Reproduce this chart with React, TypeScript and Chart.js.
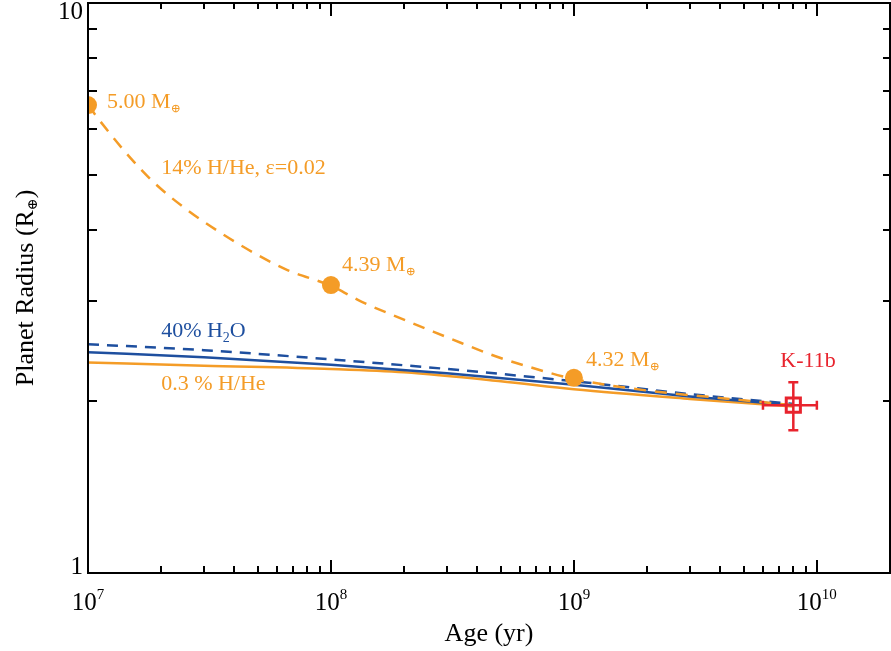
import React, { useEffect, useRef } from 'react';
import { Chart, registerables } from 'chart.js';

Chart.register(...registerables);

const FONT = '"Liberation Serif", "DejaVu Serif", serif';
const ORANGE = '#F49C27';
const BLUE = '#1E4F9F';
const RED = '#E8232D';

// 14% H/He, epsilon = 0.02 (dashed orange)
const ageHHe14 = [1e7, 1.13e7, 1.46e7, 1.88e7, 2.57e7, 3.52e7, 4.84e7, 6.62e7, 1e8, 1.34e8, 1.85e8, 2.53e8, 3.46e8, 4.76e8, 6.52e8, 1e9, 2.0e9, 3.9e9, 8e9];
const radiusHHe14 = [6.62, 6.18, 5.41, 4.83, 4.33, 3.95, 3.64, 3.4, 3.19, 2.99, 2.82, 2.67, 2.53, 2.4, 2.3, 2.19, 2.09, 2.03, 1.97];

// 40% H2O (blue dashed and blue solid)
const ageH2O = [1e7, 3e7, 1e8, 3e8, 1e9, 3e9, 8e9];
const radiusH2ODashed = [2.52, 2.46, 2.37, 2.28, 2.17, 2.06, 1.98];
const radiusH2OSolid = [2.44, 2.39, 2.32, 2.24, 2.14, 2.04, 1.97];

// 0.3% H/He (orange solid)
const ageHHe03 = [1e7, 3e7, 1e8, 2e8, 5e8, 1e9, 3e9, 8e9];
const radiusHHe03 = [2.34, 2.31, 2.28, 2.25, 2.17, 2.1, 2.02, 1.96];

// Planet mass markers
const massAges = [1e7, 1e8, 1e9];
const massRadii = [6.62, 3.2, 2.2];
const massLabels = ['5.00', '4.39', '4.32'];

// Kepler-11b
const k11bAge = 8e9;
const k11bAgeErr = 2e9;
const k11bRadius = 1.97;
const k11bRadiusErr = 0.19;

// Axis ticks
const xMajorTicks = [1e7, 1e8, 1e9, 1e10];
const xTickExponents = ['7', '8', '9', '10'];
const yMajorTicks = [1, 10];
const yTickLabels = ['1', '10'];

// Curve labels anchored in data coordinates (age, radius at text centre)
const curveLabelText = ['14% H/He, \u03B5=0.02', '40% H', '0.3 % H/He'];
const curveLabelAge = [2.0e7, 2.0e7, 2.0e7];
const curveLabelRadius = [5.16, 2.67, 2.16];
const curveLabelColor = [ORANGE, BLUE, ORANGE];

type Part = { t: string; size: number; dy?: number };

function drawParts(ctx: CanvasRenderingContext2D, parts: Part[], x: number, y: number, align: string, color: string) {
  ctx.save();
  ctx.fillStyle = color;
  ctx.textBaseline = 'alphabetic';
  ctx.textAlign = 'left';
  let total = 0;
  const widths: number[] = [];
  for (const p of parts) {
    ctx.font = `${p.size}px ${FONT}`;
    const w = ctx.measureText(p.t).width;
    widths.push(w);
    total += w;
  }
  let cx = align === 'center' ? x - total / 2 : align === 'right' ? x - total : x;
  parts.forEach((p, i) => {
    ctx.font = `${p.size}px ${FONT}`;
    ctx.fillText(p.t, cx, y + (p.dy || 0));
    cx += widths[i];
  });
  ctx.restore();
}

const decorPlugin = {
  id: 'decor',
  beforeDatasetDraw(chart: any, args: any) {
    if (args.index !== 0) return;
    const ctx: CanvasRenderingContext2D = chart.ctx;
    const xs = chart.scales.x;
    const ys = chart.scales.y;
    const cx = xs.getPixelForValue(k11bAge);
    const cy = ys.getPixelForValue(k11bRadius);
    const x0 = xs.getPixelForValue(k11bAge - k11bAgeErr);
    const x1 = xs.getPixelForValue(k11bAge + k11bAgeErr);
    const y0 = ys.getPixelForValue(k11bRadius + k11bRadiusErr);
    const y1 = ys.getPixelForValue(k11bRadius - k11bRadiusErr);
    ctx.save();
    ctx.strokeStyle = RED;
    ctx.lineWidth = 2.5;
    ctx.beginPath();
    ctx.moveTo(x0, cy); ctx.lineTo(x1, cy);
    ctx.moveTo(x0, cy - 4.5); ctx.lineTo(x0, cy + 4.5);
    ctx.moveTo(x1, cy - 4.5); ctx.lineTo(x1, cy + 4.5);
    ctx.moveTo(cx, y0); ctx.lineTo(cx, y1);
    ctx.moveTo(cx - 5, y0); ctx.lineTo(cx + 5, y0);
    ctx.moveTo(cx - 5, y1); ctx.lineTo(cx + 5, y1);
    ctx.stroke();
    ctx.restore();
  },
  afterDraw(chart: any) {
    const ctx: CanvasRenderingContext2D = chart.ctx;
    const xs = chart.scales.x;
    const ys = chart.scales.y;
    const { left, right, top, bottom } = chart.chartArea;
    ctx.save();
    ctx.strokeStyle = '#000';
    ctx.lineWidth = 2;
    ctx.lineCap = 'butt';
    ctx.beginPath();
    // x ticks
    for (let e = 7; e <= 10; e++) {
      for (let k = 1; k <= 9; k++) {
        const v = k * Math.pow(10, e);
        if (v < xs.min || v > xs.max) continue;
        const px = Math.round(xs.getPixelForValue(v));
        const lb = k === 1 ? 13 : 7;
        const lt = k === 1 ? 13 : 6;
        ctx.moveTo(px, bottom); ctx.lineTo(px, bottom - lb);
        ctx.moveTo(px, top); ctx.lineTo(px, top + lt);
      }
    }
    // y ticks
    for (let e = 0; e <= 1; e++) {
      for (let k = 1; k <= 9; k++) {
        const v = k * Math.pow(10, e);
        if (v < ys.min || v > ys.max) continue;
        const py = Math.round(ys.getPixelForValue(v));
        const ll = k === 1 ? 13 : 9;
        const lr = k === 1 ? 13 : 7;
        ctx.moveTo(left, py); ctx.lineTo(left + ll, py);
        ctx.moveTo(right, py); ctx.lineTo(right - lr, py);
      }
    }
    ctx.stroke();
    ctx.strokeRect(left, top, right - left, bottom - top);
    ctx.restore();

    // x tick labels
    xMajorTicks.forEach((v, i) => {
      const px = xs.getPixelForValue(v);
      drawParts(ctx, [{ t: '10', size: 25 }, { t: xTickExponents[i], size: 15, dy: -11 }], px, 610, 'center', '#000');
    });
    // y tick labels
    yMajorTicks.forEach((v, i) => {
      const py = ys.getPixelForValue(v);
      const base = i === yMajorTicks.length - 1 ? py + 16 : py + 1;
      drawParts(ctx, [{ t: yTickLabels[i], size: 25 }], left - 5, base, 'right', '#000');
    });
    // axis titles
    drawParts(ctx, [{ t: 'Age (yr)', size: 26 }], (left + right) / 2, 641, 'center', '#000');
    ctx.save();
    ctx.translate(33, (top + bottom) / 2);
    ctx.rotate(-Math.PI / 2);
    drawParts(ctx, [{ t: 'Planet Radius (R', size: 26 }, { t: '\u2295', size: 14, dy: 4 }, { t: ')', size: 26 }], 0, 0, 'center', '#000');
    ctx.restore();

    // mass labels
    const massOffsets = [[19, -5], [11, -22], [12, -19]];
    massAges.forEach((a, i) => {
      const px = xs.getPixelForValue(a) + massOffsets[i][0];
      const py = ys.getPixelForValue(massRadii[i]) + massOffsets[i][1] + 7.5;
      drawParts(ctx, [{ t: massLabels[i] + ' M', size: 22 }, { t: '\u2295', size: 12, dy: 4 }], px, py, 'left', ORANGE);
    });

    // curve labels
    curveLabelText.forEach((t, i) => {
      const px = xs.getPixelForValue(curveLabelAge[i]);
      const py = ys.getPixelForValue(curveLabelRadius[i]) + 7.5;
      const parts: Part[] = i === 1
        ? [{ t, size: 22 }, { t: '2', size: 14, dy: 5 }, { t: 'O', size: 22 }]
        : [{ t, size: 22 }];
      drawParts(ctx, parts, px, py, 'left', curveLabelColor[i]);
    });

    // K-11b label
    const kx = xs.getPixelForValue(9.2e9);
    const ky = ys.getPixelForValue(2.37) + 7.5;
    drawParts(ctx, [{ t: 'K-11b', size: 22 }], kx, ky, 'center', RED);
  },
};

function pts(xs: number[], ys: number[]) {
  return xs.map((x, i) => ({ x, y: ys[i] }));
}

export default function App() {
  const ref = useRef<HTMLCanvasElement | null>(null);
  useEffect(() => {
    if (!ref.current) return;
    const chart = new Chart(ref.current, {
      type: 'scatter',
      data: {
        datasets: [
          {
            data: [{ x: k11bAge, y: k11bRadius }],
            pointStyle: 'rect',
            pointRadius: 10,
            pointBorderWidth: 3,
            borderColor: RED,
            backgroundColor: 'rgba(0,0,0,0)',
          } as any,
          {
            data: pts(massAges, massRadii),
            pointRadius: 9,
            pointBorderWidth: 0,
            backgroundColor: ORANGE,
            borderColor: ORANGE,
            clip: 0,
          },
          {
            data: pts(ageHHe14, radiusHHe14),
            showLine: true,
            borderColor: ORANGE,
            borderWidth: 2.5,
            borderDash: [12, 9],
            pointRadius: 0,
            cubicInterpolationMode: 'monotone',
            clip: 0,
          },
          {
            data: pts(ageH2O, radiusH2ODashed),
            showLine: true,
            borderColor: BLUE,
            borderWidth: 2.5,
            borderDash: [11, 8],
            pointRadius: 0,
            cubicInterpolationMode: 'monotone',
            clip: 0,
          },
          {
            data: pts(ageH2O, radiusH2OSolid),
            showLine: true,
            borderColor: BLUE,
            borderWidth: 2.5,
            pointRadius: 0,
            cubicInterpolationMode: 'monotone',
            clip: 0,
          },
          {
            data: pts(ageHHe03, radiusHHe03),
            showLine: true,
            borderColor: ORANGE,
            borderWidth: 2.5,
            pointRadius: 0,
            cubicInterpolationMode: 'monotone',
            clip: 0,
          },
        ],
      },
      options: {
        responsive: false,
        maintainAspectRatio: false,
        animation: false,
        events: [],
        layout: { autoPadding: false, padding: { left: 88, right: 1, top: 3, bottom: 78 } },
        scales: {
          x: { type: 'logarithmic', min: 1e7, max: 2e10, display: false },
          y: { type: 'logarithmic', min: 1, max: 10, display: false },
        },
        plugins: { legend: { display: false }, tooltip: { enabled: false } },
      },
      plugins: [decorPlugin],
    } as any);
    return () => chart.destroy();
  }, []);
  return (
    <div style={{ position: 'fixed', left: 0, top: 0, width: 891, height: 651, background: '#fff' }}>
      <canvas ref={ref} width={891} height={651} style={{ display: 'block' }} />
    </div>
  );
}
